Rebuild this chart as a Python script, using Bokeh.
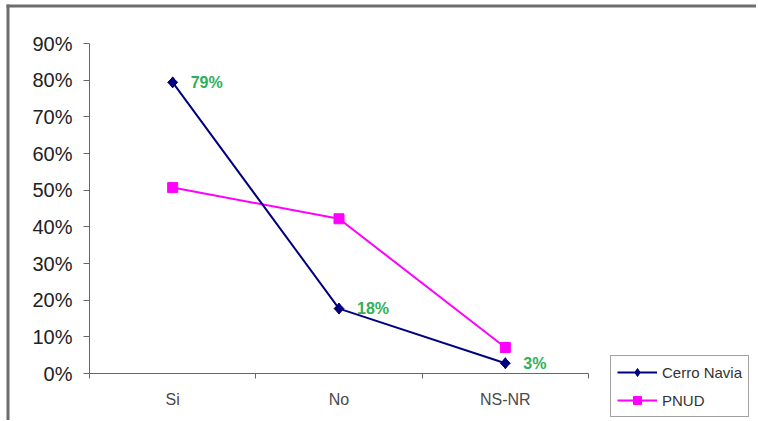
from bokeh.plotting import figure
from bokeh.models import (Range1d, FixedTicker, NumeralTickFormatter, Legend, LegendItem,
                          ColumnDataSource, BoxAnnotation)
from bokeh.core.properties import value
from bokeh.embed import file_html
from bokeh.resources import INLINE

# ---- data ----
categories = ["Si", "No", "NS-NR"]
cerro_navia = [0.794, 0.177, 0.028]
pnud = [0.507, 0.422, 0.071]
y_ticks = [0.0, 0.1, 0.2, 0.3, 0.4, 0.5, 0.6, 0.7, 0.8, 0.9]
y_max = 0.9

x = [i + 0.5 for i in range(len(categories))]
bounds = [i for i in range(len(categories) + 1)]
cn_labels = [f"{round(v * 100)}%" for v in cerro_navia]

FONT = "Liberation Sans"
NAVY = "#000080"
MAGENTA = "#FF00FF"

# ---- layout (pixels) ----
W, H = 756, 420          # canvas size
AX_L, AX_R = 89, 588     # x pixel of category range start / end
AX_B, AX_T = 373, 43     # y pixel of 0 and of y_max

sx = len(categories) / (AX_R - AX_L)
sy = y_max / (AX_B - AX_T)
def xd(px):
    return (px - AX_L) * sx
def yd(py):
    return (AX_B - py) * sy

p = figure(width=W, height=H,
           x_range=Range1d(xd(0), xd(W)), y_range=Range1d(yd(H), yd(0)),
           output_backend="svg", toolbar_location=None, min_border=0)

p.grid.visible = False
p.outline_line_color = None
p.background_fill_color = "white"
p.border_fill_color = "white"

# outer frame (top and left edges)
p.add_layout(BoxAnnotation(left=xd(6), right=xd(W), top=yd(4), bottom=yd(7),
                           fill_color="#6e6e6e", fill_alpha=1, line_color=None))
p.add_layout(BoxAnnotation(left=xd(6), right=xd(9), top=yd(4), bottom=yd(H),
                           fill_color="#6e6e6e", fill_alpha=1, line_color=None))

# y axis
yax = p.yaxis[0]
yax.fixed_location = 0
yax.bounds = (0, y_max)
yax.ticker = FixedTicker(ticks=y_ticks)
yax.formatter = NumeralTickFormatter(format="0%")
yax.major_label_text_font = FONT
yax.major_label_text_font_size = "20px"
yax.major_label_text_color = "#222222"
yax.axis_line_color = "#666666"
yax.major_tick_line_color = "#666666"
yax.major_tick_out = 6
yax.major_tick_in = 0
yax.minor_tick_out = 0
yax.minor_tick_in = 0
yax.major_label_standoff = 11

# x axis
xax = p.xaxis[0]
xax.fixed_location = 0
xax.bounds = (0, len(categories))
xax.ticker = FixedTicker(ticks=x, minor_ticks=bounds)
xax.major_label_overrides = {xi: c for xi, c in zip(x, categories)}
xax.major_label_text_font = FONT
xax.major_label_text_font_size = "16px"
xax.major_label_text_color = "#4a4a4a"
xax.axis_line_color = "#666666"
xax.major_tick_in = 0
xax.major_tick_out = 0
xax.minor_tick_in = 0
xax.minor_tick_out = 5
xax.minor_tick_line_color = "#666666"
xax.major_label_standoff = 12

# series
r2 = p.line(x, pnud, line_color=MAGENTA, line_width=2)
s2 = p.scatter(x, pnud, marker="square", size=10, fill_color=MAGENTA, line_color=MAGENTA)
r1 = p.line(x, cerro_navia, line_color=NAVY, line_width=2)
# diamond marker (also used as the legend swatch), covered by a rotated square
s1_key = p.scatter(x, cerro_navia, marker="diamond", size=11, fill_color=NAVY, line_color=NAVY)
s1 = p.scatter(x, cerro_navia, marker="square", size=7, angle=0.785398,
               fill_color=NAVY, line_color=NAVY)

src = ColumnDataSource(dict(x=x, y=cerro_navia, t=cn_labels))
p.text(x="x", y="y", text="t", source=src, x_offset=18,
       text_align="left", text_baseline="middle",
       text_font=value(FONT), text_font_size="16px", text_font_style="bold",
       text_color="#2EB05A")

legend = Legend(items=[LegendItem(label="Cerro Navia", renderers=[r1, s1_key]),
                       LegendItem(label="PNUD", renderers=[r2, s2])],
                location=(610, H - 417))
legend.border_line_color = "#444444"
legend.border_line_width = 1
legend.background_fill_color = "white"
legend.background_fill_alpha = 1
legend.padding = 6
legend.spacing = 8
legend.margin = 0
legend.glyph_width = 40
legend.glyph_height = 20
legend.label_height = 20
legend.label_standoff = 5
legend.label_text_font = FONT
legend.label_text_font_size = "15px"
legend.label_text_color = "#333333"
p.add_layout(legend, "center")

open("out.html", "w").write(file_html(p, INLINE))
